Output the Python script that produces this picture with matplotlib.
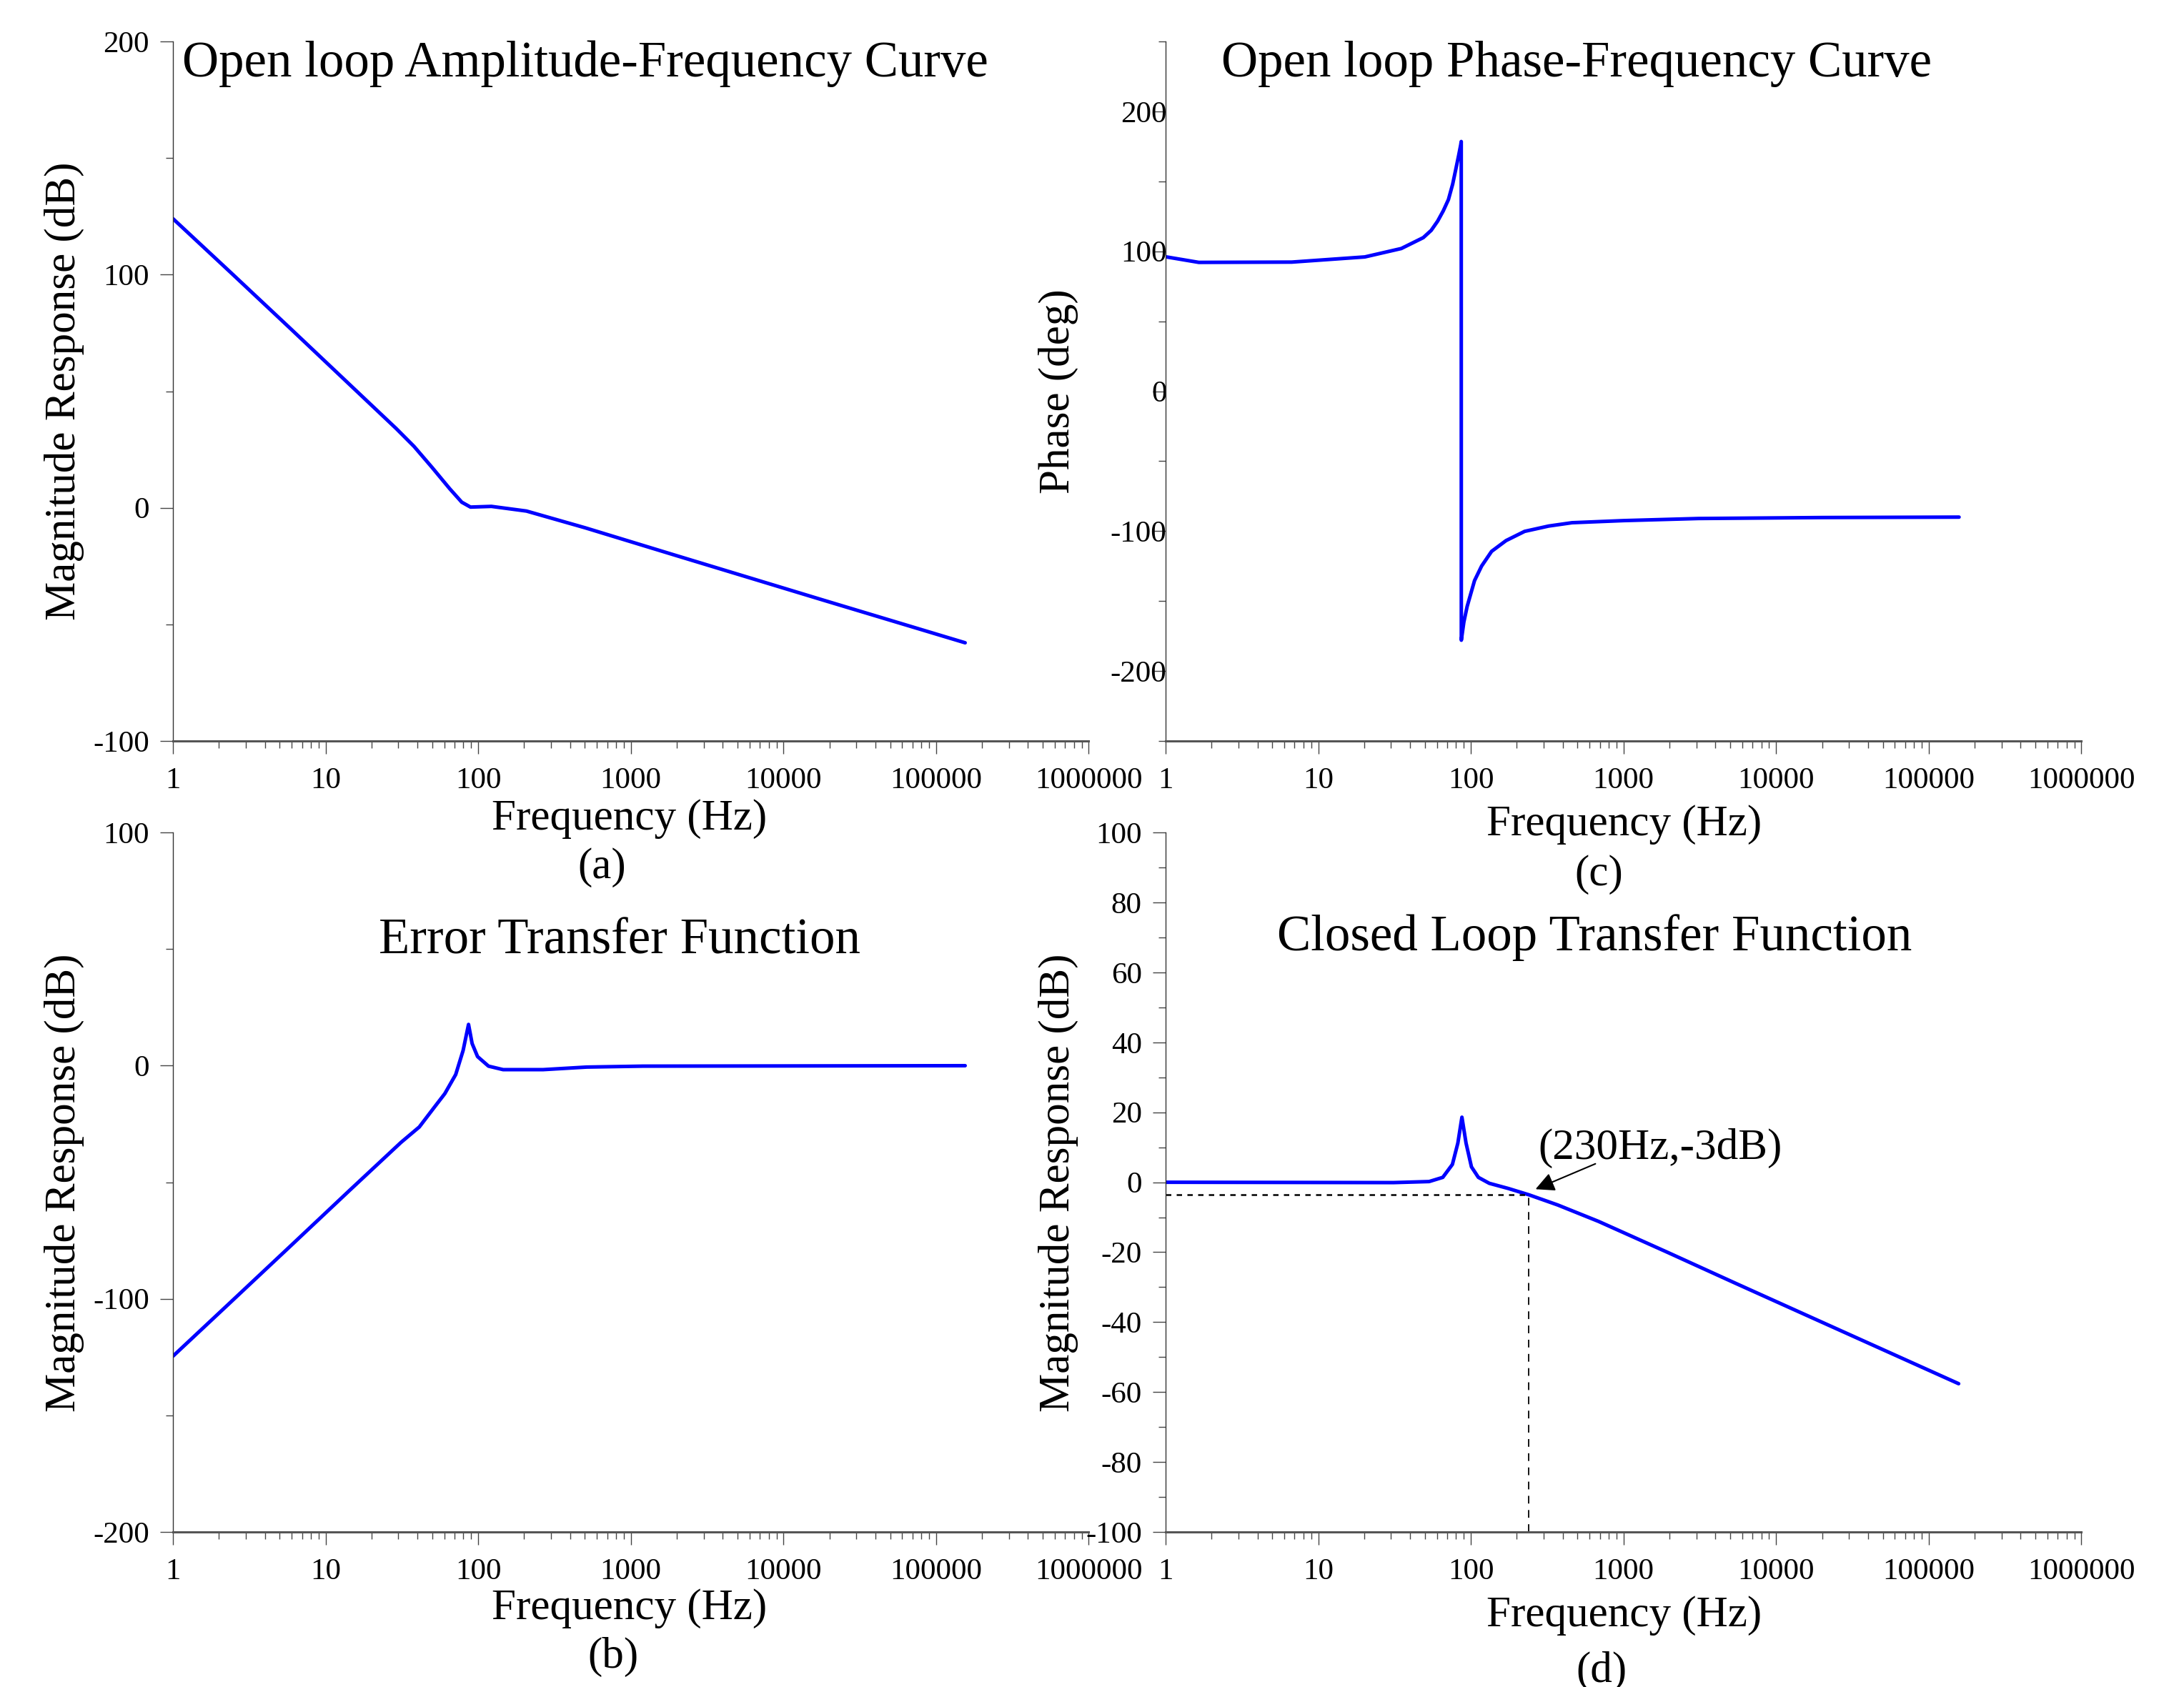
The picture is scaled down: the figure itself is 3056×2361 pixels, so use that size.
import matplotlib
matplotlib.use("Agg")
import matplotlib.pyplot as plt
from matplotlib.ticker import LogLocator, MultipleLocator, FuncFormatter, NullFormatter

plt.rcParams['font.family'] = ['Liberation Serif', 'DejaVu Serif']

# (a) open loop magnitude
ol_freq = [1, 2.4, 5.9, 14.3, 29, 38, 50, 65, 78, 89, 122, 207, 503, 1940, 18000, 155000]
ol_mag = [124, 100.8, 76.8, 53.0, 34.0, 26.3, 17.2, 8.2, 2.4, 0.3, 0.6, -1.4, -8.6, -20.3, -39.5, -57.9]

# (c) open loop phase
ph_freq = [1, 1.65, 6.7, 20.2, 35, 48.8, 55, 60.6, 66, 71.3, 76, 79.7, 83, 85.8, 86.5, 86.6,
           90, 94.6, 105.7, 117.6, 136.7, 170, 225, 323, 460, 1000, 3090, 20000, 158000]
ph_deg = [96.1, 92.1, 92.3, 96, 102, 109.8, 115, 121.6, 129, 137, 148, 158.7, 168, 176, 178.5, -178,
          -165, -153.8, -135.4, -125, -114.5, -106.8, -100.2, -96.4, -94, -92.5, -91, -90.3, -90]

# (b) error transfer function
err_freq = [1, 2.4, 5.9, 14.3, 31.2, 41.1, 51.2, 60.4, 71.2, 79.6, 86.4, 91.2, 99, 116.8, 145.6,
            266, 513, 1200, 155000]
err_mag = [-124.6, -101.3, -77.3, -53.6, -32.9, -26.3, -18.1, -12, -3.8, 6.5, 17.7, 9.5, 3.9, -0.2, -1.7,
           -1.7, -0.6, -0.2, 0]

# (d) closed loop transfer function
cl_freq = [1, 31.1, 53.3, 65.5, 75.7, 82.2, 87.4, 93, 100.9, 112, 132, 176.6, 240.5, 371, 687,
           1935, 5430, 16520, 157000]
cl_mag = [0, -0.1, 0.2, 1.4, 5.1, 11.2, 18.6, 11.2, 4.4, 1.4, -0.3, -1.8, -3.6, -6.5, -11.2,
          -20.0, -28.9, -38.4, -57.6]

bw_freq = 240
bw_db = -3.5

fig = plt.figure(figsize=(30.56, 23.61), dpi=100)

L1, L2, W = 0.0792, 0.5337, 0.4193
B_top, B_bot, H = 0.5608, 0.0919, 0.4146

ax_a = fig.add_axes([L1, B_top, W, H])
ax_c = fig.add_axes([L2, B_top, W, H])
ax_b = fig.add_axes([L1, B_bot, W, H])
ax_d = fig.add_axes([L2, B_bot, W, H])


def style(ax, ylim, major, minor, ypad=11):
    ax.set_xscale('log')
    ax.set_xlim(1, 1e6)
    ax.set_ylim(*ylim)
    ax.xaxis.set_major_locator(LogLocator(base=10, numticks=20))
    ax.xaxis.set_minor_locator(LogLocator(base=10, subs=range(2, 10), numticks=100))
    ax.xaxis.set_major_formatter(FuncFormatter(lambda v, _: f"{v:.0f}"))
    ax.xaxis.set_minor_formatter(NullFormatter())
    ax.yaxis.set_major_locator(MultipleLocator(major))
    ax.yaxis.set_minor_locator(MultipleLocator(minor))
    ax.yaxis.set_major_formatter(FuncFormatter(lambda v, _: f"{v:.0f}"))
    for s in ('top', 'right'):
        ax.spines[s].set_visible(False)
    ax.spines['left'].set_linewidth(1.0)
    ax.spines['left'].set_color('#333333')
    ax.spines['bottom'].set_linewidth(2.2)
    ax.spines['bottom'].set_color('#555555')
    ax.tick_params(which='major', direction='out', length=13, width=1, color='#444444', labelsize=31)
    ax.tick_params(which='minor', direction='out', length=7, width=1, color='#444444')
    ax.tick_params(axis='x', which='major', pad=13)
    ax.tick_params(axis='y', which='major', pad=ypad)


style(ax_a, (-100, 200), 100, 50)
style(ax_c, (-250, 250), 100, 50, ypad=-14)
style(ax_b, (-200, 100), 100, 50)
style(ax_d, (-100, 100), 20, 10)

blue = '#0000ff'
for ax, fx, fy in [(ax_a, ol_freq, ol_mag), (ax_c, ph_freq, ph_deg),
                   (ax_b, err_freq, err_mag), (ax_d, cl_freq, cl_mag)]:
    ax.plot(fx, fy, color=blue, lw=3.6, solid_joinstyle='round', solid_capstyle='round')

# -3 dB marker lines and annotation
ax_d.plot([1, bw_freq], [bw_db, bw_db], color='black', lw=1.8, dashes=(3, 3))
ax_d.plot([bw_freq, bw_freq], [-100, bw_db], color='black', lw=1.3, dashes=(6, 5))
ax_d.annotate('', xy=(258, -2.2), xytext=(673, 5.5),
              arrowprops=dict(arrowstyle='-|>', color='black', lw=1.5, mutation_scale=40))
ax_d.text(277, 9.8, '(230Hz,-3dB)', fontsize=44, ha='left', va='center')

# titles
fig.text(0.268, 0.962, 'Open loop Amplitude-Frequency Curve', fontsize=51, ha='center', va='center')
fig.text(0.722, 0.962, 'Open loop Phase-Frequency Curve', fontsize=51, ha='center', va='center')
fig.text(0.2838, 0.442, 'Error Transfer Function', fontsize=51, ha='center', va='center')
fig.text(0.730, 0.4444, 'Closed Loop Transfer Function', fontsize=51, ha='center', va='center')

# axis labels
for x, y in [(0.2883, 0.5146), (0.7436, 0.5113), (0.2883, 0.0465), (0.7436, 0.0424)]:
    fig.text(x, y, 'Frequency (Hz)', fontsize=44, ha='center', va='center')
fig.text(0.0294, 0.768, 'Magnitude Response (dB)', fontsize=44, rotation=90, ha='center', va='center')
fig.text(0.4847, 0.768, 'Phase (deg)', fontsize=44, rotation=90, ha='center', va='center')
fig.text(0.0294, 0.299, 'Magnitude Response (dB)', fontsize=44, rotation=90, ha='center', va='center')
fig.text(0.4847, 0.299, 'Magnitude Response (dB)', fontsize=44, rotation=90, ha='center', va='center')

# panel letters
fig.text(0.2755, 0.4857, '(a)', fontsize=44, ha='center', va='center')
fig.text(0.7322, 0.4816, '(c)', fontsize=44, ha='center', va='center')
fig.text(0.2806, 0.0178, '(b)', fontsize=44, ha='center', va='center')
fig.text(0.7334, 0.0093, '(d)', fontsize=44, ha='center', va='center')

fig.savefig('out.png', dpi=100, facecolor='white')
